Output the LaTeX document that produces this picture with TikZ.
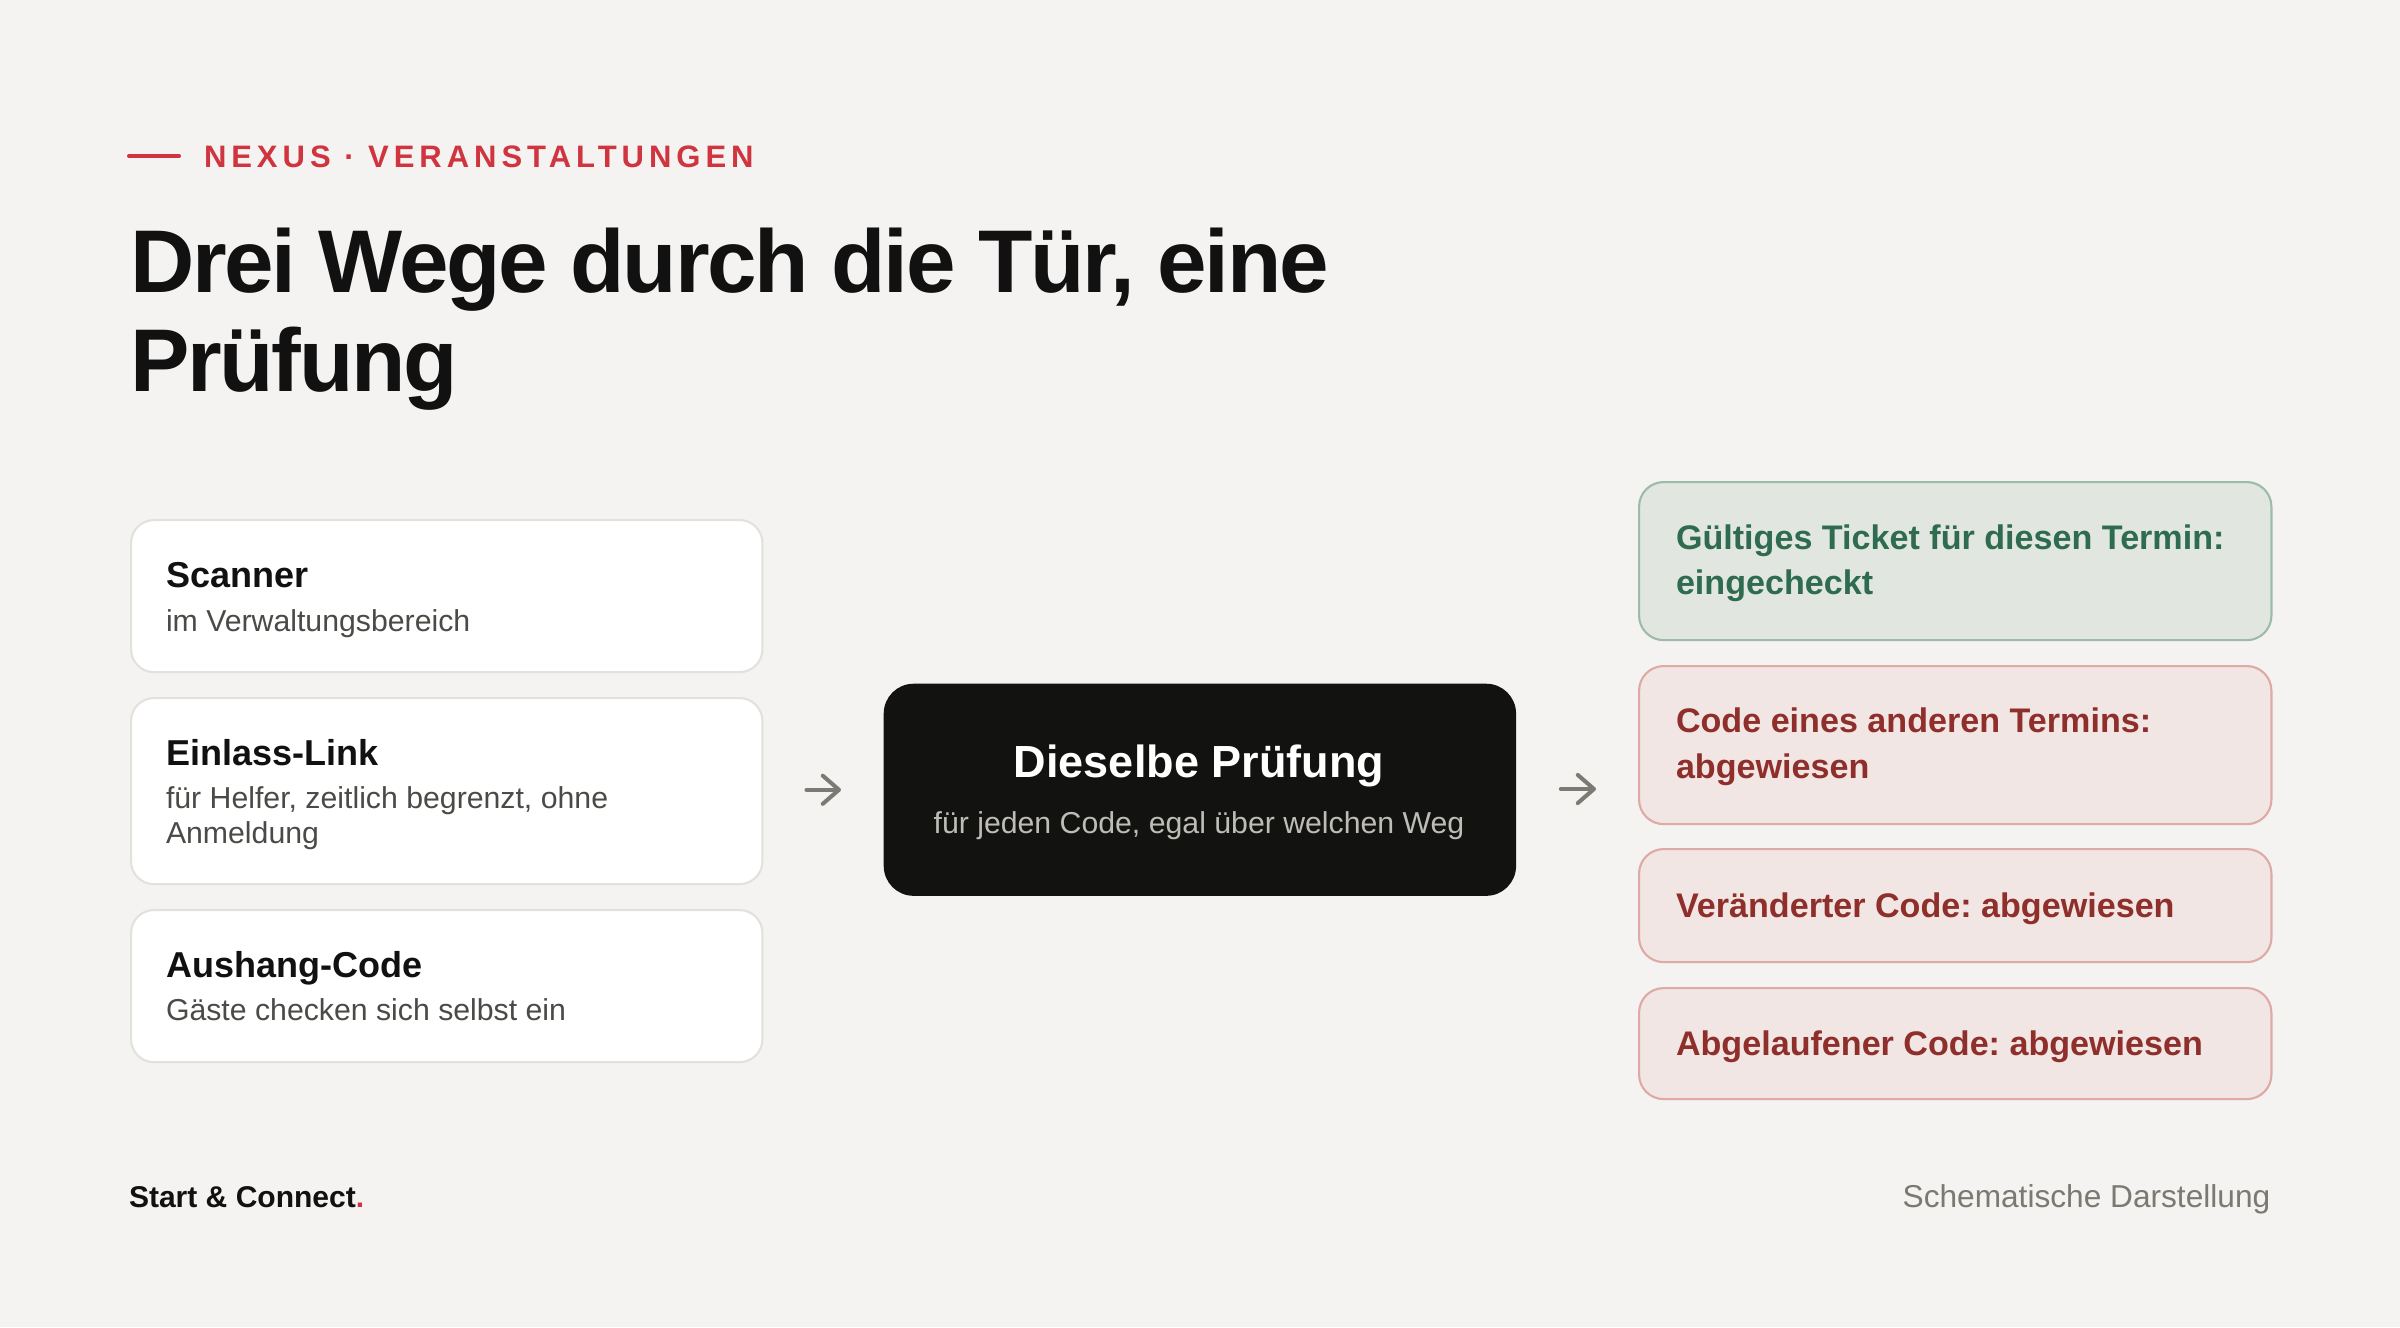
\documentclass[tikz,border=0pt]{standalone}
\usepackage{fontspec}
\setmainfont{Liberation Sans}
\newfontfamily\titlefont[LetterSpace=-2.5]{Liberation Sans}
\newfontfamily\eyefont[LetterSpace=16]{Liberation Sans}
\usetikzlibrary{arrows.meta}
\frenchspacing
\definecolor{bg}{HTML}{F4F3F1}
\definecolor{ink}{HTML}{111111}
\definecolor{sub}{HTML}{4A4A46}
\definecolor{accent}{HTML}{D0343F}
\definecolor{lborder}{HTML}{E3E1DD}
\definecolor{dark}{HTML}{121211}
\definecolor{darksub}{HTML}{BEBCB6}
\definecolor{arrowc}{HTML}{7B7B73}
\definecolor{gfill}{HTML}{E1E7E0}
\definecolor{gborder}{HTML}{9EBBA9}
\definecolor{gtext}{HTML}{2F6B4E}
\definecolor{rfill}{HTML}{F1E6E3}
\definecolor{rborder}{HTML}{DEAAA6}
\definecolor{rtext}{HTML}{8F2F2B}
\definecolor{muted}{HTML}{7A7A72}
\tikzset{
  lbox/.style={draw=lborder, fill=white, line width=0.6pt, rounded corners=6.5pt, anchor=north west, inner sep=0pt},
  cbox/.style={fill=dark, rounded corners=8.5pt, anchor=north west, inner sep=0pt},
  gbox/.style={draw=gborder, fill=gfill, line width=0.6pt, rounded corners=7pt, anchor=north west, inner sep=0pt},
  rbox/.style={draw=rborder, fill=rfill, line width=0.6pt, rounded corners=7pt, anchor=north west, inner sep=0pt},
  txt/.style={anchor=base west, inner sep=0pt, outer sep=0pt},
  ltitle/.style={txt, font=\fontsize{10.24pt}{12pt}\selectfont\bfseries, text=ink},
  lsub/.style={txt, font=\fontsize{8.6pt}{10pt}\selectfont, text=sub},
  rtxt/.style={txt, font=\fontsize{9.7pt}{11pt}\selectfont\bfseries},
  arr/.style={draw=arrowc, line width=1.15pt, line cap=round,
    -{Straight Barb[length=4.6pt, width=8pt, line width=1.15pt, line cap=round, line join=round]}}
}
\begin{document}
\begin{tikzpicture}[x=0.01cm, y=-0.01cm]
\useasboundingbox (0,0) rectangle (2400,1327);
\fill[bg] (0,0) rectangle (2400,1327);

% eyebrow
\coordinate (eyeA) at (129,156);
\coordinate (eyeB) at (179,156);
\draw[accent, line width=1.15pt, line cap=round] (eyeA) -- (eyeB);
\node[txt, text=accent, font=\fontsize{8.82pt}{10pt}\eyefont\bfseries] (eyebrow) at (204,167) {NEXUS · VERANSTALTUNGEN};

% title
\node[txt, text=ink, font=\fontsize{25.32pt}{28pt}\titlefont\bfseries] (title1) at (130,292) {Drei Wege durch die Tür, eine};
\node[txt, text=ink, font=\fontsize{25.32pt}{28pt}\titlefont\bfseries] (title2) at (130,391) {Prüfung};

% left boxes
\node[lbox, minimum width=6.31cm, minimum height=1.52cm] (scanner) at (130,519) {};
\node[ltitle] (scannerT) at (166,587) {Scanner};
\node[lsub] (scannerS) at (166,631) {im Verwaltungsbereich};

\node[lbox, minimum width=6.31cm, minimum height=1.86cm] (einlass) at (130,697) {};
\node[ltitle] (einlassT) at (166,765) {Einlass-Link};
\node[lsub] (einlassS1) at (166,808) {für Helfer, zeitlich begrenzt, ohne};
\node[lsub] (einlassS2) at (166,843) {Anmeldung};

\node[lbox, minimum width=6.31cm, minimum height=1.52cm] (aushang) at (130,909) {};
\node[ltitle] (aushangT) at (166,977) {Aushang-Code};
\node[lsub] (aushangS) at (166,1020) {Gäste checken sich selbst ein};

% center box
\node[cbox, minimum width=6.32cm, minimum height=2.12cm] (check) at (883,683) {};
\node[anchor=base, inner sep=0pt, text=white, font=\fontsize{12.8pt}{14pt}\selectfont\bfseries] (checkT) at (1199,777) {Dieselbe Prüfung};
\node[anchor=base, inner sep=0pt, text=darksub, font=\fontsize{8.6pt}{10pt}\selectfont] (checkS) at (1199,833) {für jeden Code, egal über welchen Weg};

% right boxes
\node[gbox, minimum width=6.32cm, minimum height=1.58cm] (ok) at (1638,481) {};
\node[rtxt, text=gtext] (okT1) at (1676,549) {Gültiges Ticket für diesen Termin:};
\node[rtxt, text=gtext] (okT2) at (1676,594) {eingecheckt};

\node[rbox, minimum width=6.32cm, minimum height=1.58cm] (other) at (1638,665) {};
\node[rtxt, text=rtext] (otherT1) at (1676,732) {Code eines anderen Termins:};
\node[rtxt, text=rtext] (otherT2) at (1676,778) {abgewiesen};

\node[rbox, minimum width=6.32cm, minimum height=1.13cm] (changed) at (1638,848) {};
\node[rtxt, text=rtext] (changedT) at (1676,917) {Veränderter Code: abgewiesen};

\node[rbox, minimum width=6.32cm, minimum height=1.11cm] (expired) at (1638,987) {};
\node[rtxt, text=rtext] (expiredT) at (1676,1055) {Abgelaufener Code: abgewiesen};

% arrows
\coordinate (outs) at (1638,789);
\draw[arr, shorten <=0.43cm, shorten >=0.42cm] (einlass.east |- check.west) -- (check.west);
\draw[arr, shorten <=0.44cm, shorten >=0.42cm] (check.east |- outs) -- (outs);

% footer
\node[txt, text=ink, font=\fontsize{8.54pt}{10pt}\selectfont\bfseries] (brand) at (129,1207) {Start \& Connect\textcolor{accent}{.}};
\node[anchor=base east, inner sep=0pt, text=muted, font=\fontsize{9pt}{10pt}\selectfont] (note) at (2271,1207) {Schematische Darstellung};
\end{tikzpicture}
\end{document}
